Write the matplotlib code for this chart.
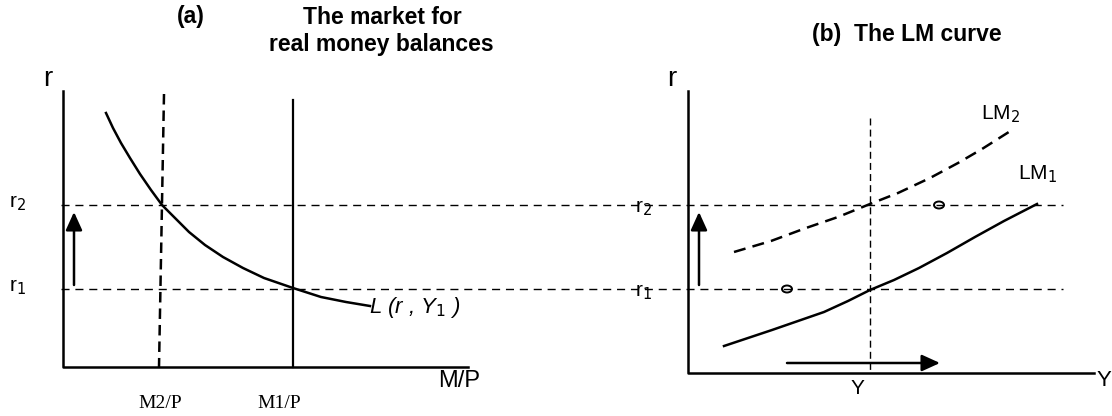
import matplotlib
matplotlib.use('Agg')
import matplotlib.pyplot as plt
from matplotlib.patches import Ellipse

# coordinates in pixels (x right, y down)
# left panel: money demand curve L(r, Y1)
L_x = [106, 113, 121, 130, 140, 151, 162, 175, 189, 205, 223, 243, 264, 293, 321, 346, 370]
L_y = [113, 128, 143, 158, 174, 190, 205, 218, 232, 245, 257, 268, 278, 288, 297, 302, 306]

# right panel: LM curves
LM1_x = [724, 748, 772, 798, 824, 848, 870, 894, 919, 947, 975, 1004, 1037]
LM1_y = [346, 338, 330, 321, 312, 301, 290, 280, 268, 253, 237, 221, 204]
LM2_x = [734, 771, 806, 838, 870, 898, 930, 958, 982, 1012]
LM2_y = [252, 241, 228, 217, 204, 193, 178, 163, 149, 130]

r_levels = [205, 289]           # r2, r1
r_labels = ['r$_2$', 'r$_1$']
M_supply_x = [162, 293]         # M2/P, M1/P
M_labels = ['M2/P', 'M1/P']
Y_x = 870
circles = [(939, 205), (787, 289)]

fig = plt.figure(figsize=(11.12, 4.16), dpi=100)
ax = fig.add_axes([0, 0, 1, 1])
ax.set_xlim(0, 1112)
ax.set_ylim(416, 0)
ax.axis('off')

sans = 'Liberation Sans'
serif = 'Liberation Serif'

# axes of both panels
ax.plot([63, 63, 468], [91, 367, 367], color='black', lw=1.8)
ax.plot([688, 688, 1094], [91, 373, 373], color='black', lw=1.8)

# horizontal dashed lines at r1, r2 spanning both panels
for yy in r_levels:
    ax.plot([61, 1063], [yy, yy], color='black', lw=1.0, dashes=(5.8, 4.2), zorder=1)

# money supply lines
ax.plot([164, 159], [94, 367], color='black', lw=1.8, dashes=(4.2, 2.4))
ax.plot([M_supply_x[1]] * 2, [100, 367], color='black', lw=1.6)

# money demand
ax.plot(L_x, L_y, color='black', lw=1.8, solid_joinstyle='round')

# LM curves
ax.plot(LM1_x, LM1_y, color='black', lw=1.8, solid_joinstyle='round')
ax.plot(LM2_x, LM2_y, color='black', lw=1.8, dashes=(4.8, 2.9))
ax.plot([Y_x, Y_x], [118, 373], color='black', lw=1.0, dashes=(5, 3))

# arrows
arr = dict(arrowstyle='-|>,head_width=0.5,head_length=1.1', color='black', lw=1.8,
           shrinkA=0, shrinkB=0)
ax.annotate('', xy=(74, 212), xytext=(74, 285), arrowprops=arr)
ax.annotate('', xy=(699, 212), xytext=(699, 285), arrowprops=arr)
ax.annotate('', xy=(940, 363), xytext=(787, 363), arrowprops=arr)

for cx, cy in circles:
    ax.add_patch(Ellipse((cx, cy), 10, 7, fill=False, edgecolor='black', lw=1.4))

# labels
ax.text(48, 79, 'r', fontsize=20, family=sans, ha='center', va='center')
ax.text(672, 79, 'r', fontsize=20, family=sans, ha='center', va='center')
for yy, lab in zip(r_levels, r_labels):
    ax.text(18, yy - 2, lab, fontsize=15, family=sans, ha='center', va='center')
    ax.text(644, yy + 3, lab, fontsize=15, family=sans, ha='center', va='center', zorder=0)
for xx, lab in zip(M_supply_x, M_labels):
    ax.text(xx - 2 - (12 if xx > 200 else 0), 403, lab, fontsize=14, family=serif,
            ha='center', va='center')
ax.text(459, 381, 'M/P', fontsize=17, family=sans, ha='center', va='center')
ax.text(1104, 380, 'Y', fontsize=16, family=sans, ha='center', va='center')
ax.text(857, 389, 'Y', fontsize=15, family=sans, ha='center', va='center')
ax.text(369, 308, 'L (r , Y$_1$ )', fontsize=16, family=sans, style='italic',
        ha='left', va='center')
ax.text(981, 114, 'LM$_2$', fontsize=15, family=sans, ha='left', va='center')
ax.text(1018, 174, 'LM$_1$', fontsize=15, family=sans, ha='left', va='center')

# titles
ax.text(191, 17, '(a)', fontsize=16.5, family=sans, weight='bold', ha='center', va='center')
ax.text(382, 17, 'The market for', fontsize=16.5, family=sans, weight='bold',
        ha='center', va='center')
ax.text(381, 45, 'real money balances', fontsize=16.5, family=sans, weight='bold',
        ha='center', va='center')
ax.text(907, 34, '(b)  The LM curve', fontsize=16.5, family=sans, weight='bold',
        ha='center', va='center')

fig.savefig('out.png', dpi=100)
